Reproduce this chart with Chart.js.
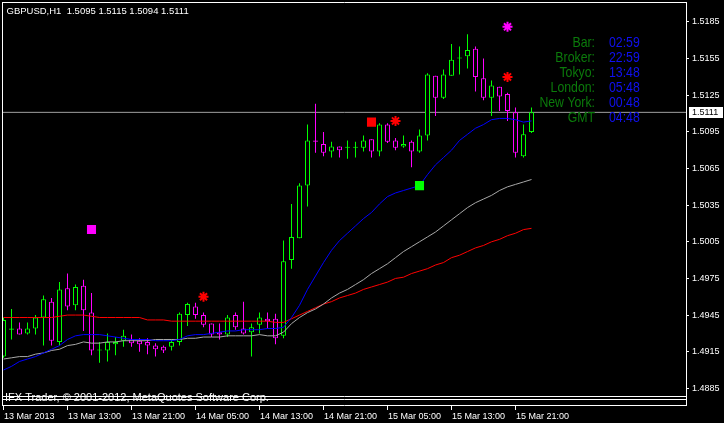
<!DOCTYPE html>
<html lang="en">
<head>
<meta charset="UTF-8">
<title>GBPUSD,H1</title>
<script src="https://cdn.jsdelivr.net/npm/chart.js"></script>
<style>
  html, body { margin: 0; padding: 0; background: #000; }
  #wrap { width: 724px; height: 423px; }
</style>
</head>
<body>
<div id="wrap"><canvas id="chart" width="724" height="423"></canvas></div>
<script>
// GBPUSD H1 candles, one per hour, left to right
const opens = [
  1.4911, 1.4933, 1.4934, 1.4930, 1.4934, 1.4943, 1.4956, 1.4923, 1.4967, 1.4953,
  1.4969, 1.4947, 1.4916, 1.4916, 1.4921, 1.4924, 1.4925, 1.4924, 1.4923, 1.4920,
  1.4919, 1.4919, 1.4923, 1.4945, 1.4952, 1.4945, 1.4938, 1.4931, 1.4929, 1.4945,
  1.4934, 1.4931, 1.4937, 1.4942, 1.4942, 1.4928, 1.4990, 1.5008, 1.5051, 1.5088,
  1.5085, 1.5079, 1.5083, 1.5082, 1.5082, 1.5082, 1.5089, 1.5079, 1.5101, 1.5088,
  1.5083, 1.5087, 1.5079, 1.5092, 1.5141, 1.5123, 1.5141, 1.5155, 1.5157, 1.5163,
  1.5139, 1.5123, 1.5132, 1.5126, 1.5111, 1.5075, 1.5095
];
const highs = [
  1.4943, 1.4950, 1.4939, 1.4939, 1.4945, 1.4961, 1.4959, 1.4972, 1.4979, 1.4970,
  1.4974, 1.4963, 1.4923, 1.4930, 1.4927, 1.4933, 1.4929, 1.4926, 1.4926, 1.4922,
  1.4920, 1.4925, 1.4947, 1.4955, 1.4955, 1.4947, 1.4938, 1.4938, 1.4945, 1.4947,
  1.4956, 1.4938, 1.4947, 1.4947, 1.4946, 1.5006, 1.5036, 1.5053, 1.5101, 1.5118,
  1.5095, 1.5087, 1.5083, 1.5088, 1.5087, 1.5092, 1.5089, 1.5102, 1.5102, 1.5090,
  1.5092, 1.5088, 1.5097, 1.5143, 1.5141, 1.5146, 1.5167, 1.5165, 1.5175, 1.5165,
  1.5155, 1.5137, 1.5132, 1.5127, 1.5115, 1.5101, 1.5115
];
const lows = [
  1.4910, 1.4925, 1.4929, 1.4929, 1.4929, 1.4920, 1.4920, 1.4920, 1.4949, 1.4949,
  1.4932, 1.4912, 1.4906, 1.4907, 1.4912, 1.4919, 1.4919, 1.4915, 1.4913, 1.4911,
  1.4914, 1.4916, 1.4920, 1.4936, 1.4942, 1.4935, 1.4927, 1.4925, 1.4927, 1.4933,
  1.4929, 1.4911, 1.4930, 1.4934, 1.4921, 1.4926, 1.4983, 1.5008, 1.5034, 1.5078,
  1.5075, 1.5074, 1.5074, 1.5073, 1.5074, 1.5079, 1.5074, 1.5075, 1.5086, 1.5080,
  1.5082, 1.5066, 1.5078, 1.5088, 1.5108, 1.5122, 1.5141, 1.5142, 1.5147, 1.5128,
  1.5121, 1.5108, 1.5112, 1.5104, 1.5074, 1.5074, 1.5094
];
const closes = [
  1.4941, 1.4934, 1.4929, 1.4934, 1.4943, 1.4958, 1.4924, 1.4966, 1.4952, 1.4968,
  1.4949, 1.4916, 1.4916, 1.4923, 1.4923, 1.4928, 1.4922, 1.4921, 1.4920, 1.4917,
  1.4916, 1.4923, 1.4946, 1.4954, 1.4945, 1.4937, 1.4929, 1.4929, 1.4943, 1.4935,
  1.4930, 1.4935, 1.4943, 1.4940, 1.4926, 1.4989, 1.5009, 1.5051, 1.5088, 1.5087,
  1.5078, 1.5083, 1.5080, 1.5082, 1.5082, 1.5088, 1.5079, 1.5101, 1.5087, 1.5082,
  1.5085, 1.5079, 1.5092, 1.5142, 1.5123, 1.5142, 1.5154, 1.5155, 1.5162, 1.5140,
  1.5123, 1.5133, 1.5124, 1.5112, 1.5078, 1.5093, 1.5111
];

// moving averages (fast blue, middle gray, slow red)
const maBlue = [
  1.4900, 1.4903, 1.4907, 1.4909, 1.4911, 1.4914, 1.4917, 1.4920, 1.4925, 1.4928,
  1.4929, 1.4929, 1.4929, 1.4928, 1.4927, 1.4926, 1.4925, 1.4925, 1.4925, 1.4924,
  1.4924, 1.4924, 1.4925, 1.4928, 1.4929, 1.4929, 1.4930, 1.4931, 1.4932, 1.4932,
  1.4933, 1.4933, 1.4933, 1.4934, 1.4934, 1.4935, 1.4943, 1.4953, 1.4966, 1.4977,
  1.4988, 1.4998, 1.5006, 1.5012, 1.5018, 1.5024, 1.5029, 1.5036, 1.5042, 1.5045,
  1.5047, 1.5049, 1.5051, 1.5060, 1.5068, 1.5074, 1.5080, 1.5088, 1.5093, 1.5098,
  1.5101, 1.5105, 1.5106, 1.5106, 1.5105, 1.5103, 1.5104
];
const maGray = [
  1.4909, 1.4910, 1.4911, 1.4911, 1.4913, 1.4914, 1.4916, 1.4917, 1.4920, 1.4921,
  1.4923, 1.4922, 1.4922, 1.4923, 1.4923, 1.4924, 1.4924, 1.4924, 1.4924, 1.4925,
  1.4925, 1.4925, 1.4925, 1.4926, 1.4926, 1.4927, 1.4927, 1.4927, 1.4928, 1.4928,
  1.4928, 1.4928, 1.4929, 1.4928, 1.4928, 1.4931, 1.4938, 1.4943, 1.4947, 1.4950,
  1.4954, 1.4959, 1.4963, 1.4966, 1.4970, 1.4974, 1.4979, 1.4983, 1.4987, 1.4992,
  1.4997, 1.5001, 1.5005, 1.5009, 1.5013, 1.5018, 1.5023, 1.5028, 1.5033, 1.5037,
  1.5040, 1.5043, 1.5047, 1.5050, 1.5052, 1.5054, 1.5056
];
const maRed = [
  1.4943, 1.4943, 1.4943, 1.4943, 1.4943, 1.4943, 1.4943, 1.4944, 1.4945, 1.4945,
  1.4945, 1.4944, 1.4943, 1.4943, 1.4943, 1.4943, 1.4943, 1.4943, 1.4941, 1.4941,
  1.4941, 1.4940, 1.4940, 1.4940, 1.4940, 1.4940, 1.4940, 1.4940, 1.4940, 1.4940,
  1.4940, 1.4940, 1.4940, 1.4940, 1.4939, 1.4939, 1.4942, 1.4945, 1.4948, 1.4951,
  1.4954, 1.4956, 1.4959, 1.4961, 1.4963, 1.4966, 1.4968, 1.4970, 1.4972, 1.4975,
  1.4976, 1.4979, 1.4981, 1.4983, 1.4986, 1.4988, 1.4992, 1.4994, 1.4997, 1.5000,
  1.5002, 1.5005, 1.5007, 1.5010, 1.5012, 1.5015, 1.5016
];

// signal objects on the chart
const squareBars = [11, 46, 52];
const squarePrices = [1.5015, 1.5103, 1.5051];
const squareColors = ['#ff00ff', '#ff0000', '#00ff00'];
const starBars = [25, 49, 63, 63];
const starPrices = [1.4960, 1.5104, 1.5140, 1.5181];
const starColors = ['#ff0000', '#ff0000', '#ff0000', '#ff00ff'];

// axes
const yTicks = [1.4885, 1.4915, 1.4945, 1.4975, 1.5005, 1.5035, 1.5065, 1.5095, 1.5125, 1.5155, 1.5185];
const timeTickBars = [0, 8, 16, 24, 32, 40, 48, 56, 64];
const timeLabels = ['13 Mar 2013', '13 Mar 13:00', '13 Mar 21:00', '14 Mar 05:00', '14 Mar 13:00',
                    '14 Mar 21:00', '15 Mar 05:00', '15 Mar 13:00', '15 Mar 21:00'];

// clock panel
const clockNames = ['Bar:', 'Broker:', 'Tokyo:', 'London:', 'New York:', 'GMT'];
const clockTimes = ['02:59', '22:59', '13:48', '05:48', '00:48', '04:48'];

const symbol = 'GBPUSD,H1';
const copyright = 'IFX Trader, \u00a9 2001-2012, MetaQuotes Software Corp.';

const n = closes.length;
const idx = closes.map((c, i) => i);
const candleColor = idx.map(i => closes[i] >= opens[i] ? '#00ff00' : '#ff00ff');
const lastClose = closes[n - 1];

// 8 px per bar, first bar 3.5 px right of the frame
const xMin = -0.0625, xMax = 85.3125;

const FONT = '"Liberation Sans", Arial, sans-serif';

const terminal = {
  id: 'terminal',
  afterDraw(chart) {
    const { ctx, scales: { x, y } } = chart;
    ctx.save();

    // window frames
    ctx.strokeStyle = '#fff';
    ctx.lineWidth = 1;
    ctx.beginPath();
    ctx.moveTo(2, 2.5); ctx.lineTo(687, 2.5);
    ctx.moveTo(2.5, 2.5); ctx.lineTo(2.5, 406);
    ctx.moveTo(686.5, 2.5); ctx.lineTo(686.5, 406);
    [396.5, 399.5, 405.5].forEach(v => { ctx.moveTo(2, v); ctx.lineTo(687, v); });
    ctx.stroke();

    // time axis
    ctx.font = '9px ' + FONT;
    ctx.fillStyle = '#fff';
    ctx.textBaseline = 'alphabetic';
    timeTickBars.forEach((b, k) => {
      const px = Math.floor(x.getPixelForValue(b)) + 0.5;
      ctx.beginPath(); ctx.moveTo(px, 405.5); ctx.lineTo(px, 410); ctx.stroke();
      ctx.fillText(timeLabels[k], px + 0.5, 418.5);
    });

    // current price marker
    const py = y.getPixelForValue(lastClose);
    ctx.fillStyle = '#fff';
    ctx.fillRect(689, Math.round(py) - 5, 34, 11);
    ctx.fillStyle = '#000';
    ctx.textBaseline = 'middle';
    ctx.fillText(lastClose.toFixed(4), 692, py + 0.5);

    // header line
    ctx.fillStyle = '#fff';
    ctx.textBaseline = 'alphabetic';
    ctx.font = '9.5px ' + FONT;
    const last = [opens[n - 1], highs[n - 1], lows[n - 1], closes[n - 1]].map(v => v.toFixed(4)).join(' ');
    ctx.fillText(symbol + '  ' + last, 6.5, 14);

    // copyright
    ctx.font = '11px ' + FONT;
    ctx.fillText(copyright, 5, 401);

    // clock panel, narrow type
    ctx.save();
    ctx.scale(0.82, 1);
    ctx.font = '15px ' + FONT;
    clockNames.forEach((name, k) => {
      const base = 46.7 + k * 15;
      ctx.textAlign = 'right';
      ctx.fillStyle = '#0b7a0b';
      ctx.fillText(name, 595 / 0.82, base);
      ctx.textAlign = 'left';
      ctx.fillStyle = '#1010f0';
      ctx.fillText(clockTimes[k], 609 / 0.82, base);
    });
    ctx.restore();

    ctx.restore();
  }
};

new Chart(document.getElementById('chart'), {
  type: 'bar',
  data: {
    datasets: [
      {
        type: 'line', label: 'bid',
        data: [{ x: xMin, y: lastClose }, { x: xMax, y: lastClose }],
        borderColor: '#a0a0a0', borderWidth: 1, pointRadius: 0, order: 9
      },
      {
        type: 'bar', label: 'wick',
        data: idx.map(i => ({ x: i, y: [lows[i], highs[i]] })),
        backgroundColor: candleColor, barThickness: 1, grouped: false,
        inflateAmount: 0, order: 8
      },
      {
        type: 'bar', label: 'body',
        data: idx.map(i => ({ x: i, y: [opens[i], closes[i]] })),
        backgroundColor: '#000', borderColor: candleColor, borderWidth: 1,
        borderSkipped: false, barThickness: 5, minBarLength: 1, grouped: false,
        inflateAmount: 0, order: 7
      },
      {
        type: 'line', label: 'MA slow',
        data: idx.map(i => ({ x: i, y: maRed[i] })),
        borderColor: '#ff0000', borderWidth: 1, pointRadius: 0, order: 5
      },
      {
        type: 'line', label: 'MA mid',
        data: idx.map(i => ({ x: i, y: maGray[i] })),
        borderColor: '#a8a8a8', borderWidth: 1, pointRadius: 0, order: 4
      },
      {
        type: 'line', label: 'MA fast',
        data: idx.map(i => ({ x: i, y: maBlue[i] })),
        borderColor: '#0000ff', borderWidth: 1, pointRadius: 0, order: 3
      },
      {
        type: 'line', label: 'squares', showLine: false,
        data: squareBars.map((b, k) => ({ x: b, y: squarePrices[k] })),
        pointStyle: 'rect', pointRadius: 6.4, pointBorderWidth: 0,
        pointBackgroundColor: squareColors, order: 2
      },
      {
        type: 'line', label: 'stars', showLine: false,
        data: starBars.map((b, k) => ({ x: b, y: starPrices[k] })),
        pointStyle: 'star', pointRadius: 5, pointBorderWidth: 2,
        pointBorderColor: starColors, order: 1
      }
    ]
  },
  options: {
    responsive: false,
    animation: false,
    devicePixelRatio: 1,
    events: [],
    layout: { padding: { left: 3, top: 2.5, right: 0, bottom: 26.3 }, autoPadding: false },
    plugins: { legend: { display: false }, tooltip: { enabled: false } },
    scales: {
      x: {
        type: 'linear', min: xMin, max: xMax, offset: false, bounds: 'data',
        grid: { offset: false }, display: false
      },
      y: {
        position: 'right',
        min: 1.487815, max: 1.520095,
        afterBuildTicks: s => { s.ticks = yTicks.map(v => ({ value: v })); },
        afterFit: s => { s.width = 38; s.paddingTop = 0; s.paddingBottom = 0; },
        ticks: {
          color: '#fff', padding: 3, autoSkip: false,
          font: { family: 'Liberation Sans', size: 9 },
          callback: v => v.toFixed(4)
        },
        grid: { drawOnChartArea: false, drawTicks: true, tickLength: 3, color: '#fff' },
        border: { color: '#fff', width: 1 }
      }
    }
  },
  plugins: [terminal]
});
</script>
</body>
</html>
